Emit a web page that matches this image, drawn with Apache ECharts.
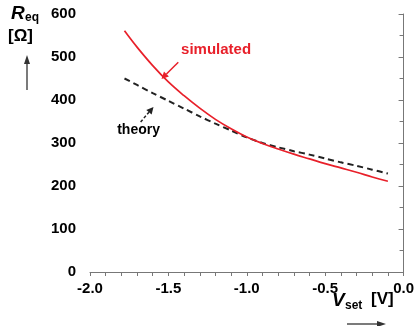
<!DOCTYPE html>
<html><head><meta charset="utf-8">
<script src="https://cdn.jsdelivr.net/npm/echarts@6/dist/echarts.min.js"></script>
<style>html,body{margin:0;padding:0;background:#fff}#c{width:417px;height:326px}</style>
</head><body><div id="c"></div>
<script>
const vset = [-1.78,-1.7,-1.6,-1.5,-1.4,-1.3,-1.2,-1.1,-1.0,-0.9,-0.8,-0.7,-0.6,-0.5,-0.4,-0.3,-0.2,-0.1];
const simulated = [561,523,480,442,410,381,355,333,314,299,286,274,263,252,242,232,221,211];
const theory = [450,435,416,398,380,362,345,329,313,300,290,281,273,264,255,247,238,229];
const xTicks = [-2.0,-1.5,-1.0,-0.5,0.0];
const yTicks = [0,100,200,300,400,500,600];

const FONT = 'Liberation Sans, Arial, sans-serif';
const chart = echarts.init(document.getElementById('c'));
const lab = {color:'#000',fontWeight:'bold',fontSize:15,fontFamily:FONT};
chart.setOption({
  animation:false,
  grid:{left:90,right:11,top:14,bottom:54},
  xAxis:{type:'value',min:xTicks[0],max:xTicks[xTicks.length-1],interval:0.5,
    axisLine:{lineStyle:{color:'#777',width:1}},
    axisTick:{length:4,lineStyle:{color:'#777',width:1}},
    minorTick:{show:true,splitNumber:5,length:4,lineStyle:{color:'#777',width:1}},
    splitLine:{show:false},minorSplitLine:{show:false},
    axisLabel:Object.assign({margin:9,formatter:v=>v.toFixed(1)},lab)},
  yAxis:{type:'value',min:yTicks[0],max:yTicks[yTicks.length-1],interval:100,
    axisLine:{show:true,lineStyle:{color:'#777',width:1}},
    axisTick:{show:true,length:5,lineStyle:{color:'#777',width:1}},
    minorTick:{show:true,splitNumber:2,length:4,lineStyle:{color:'#777',width:1}},
    splitLine:{show:false},minorSplitLine:{show:false},
    axisLabel:Object.assign({margin:14},lab)},
  series:[
    {type:'line',data:vset.map((x,i)=>[x,theory[i]]),smooth:0.3,symbol:'none',
     lineStyle:{color:'#222',width:2,type:[6,4]}},
    {type:'line',data:vset.map((x,i)=>[x,simulated[i]]),smooth:0.4,symbol:'none',
     lineStyle:{color:'#e8202a',width:1.7}}
  ]
});
function P(x,y){return chart.convertToPixel({gridIndex:0},[x,y]);}
function arrow(from,to,color,dash){
  const a=P(from[0],from[1]), b=P(to[0],to[1]);
  const ang=Math.atan2(b[1]-a[1],b[0]-a[0]);
  const L=7,W=3.5;
  const bx=b[0]-L*Math.cos(ang), by=b[1]-L*Math.sin(ang);
  const px=-Math.sin(ang)*W, py=Math.cos(ang)*W;
  return [
    {type:'line',shape:{x1:a[0],y1:a[1],x2:bx,y2:by},style:{stroke:color,lineWidth:1.5,lineDash:dash||null}},
    {type:'polygon',shape:{points:[[b[0],b[1]],[bx+px,by+py],[bx-px,by-py]]},style:{fill:color}}
  ];
}
const sp=P(-1.196,516), tp=P(-1.69,330);
const g=[
  {type:'text',x:sp[0],y:sp[1],style:{text:'simulated',fill:'#e8202a',font:'bold 15px '+FONT,textAlign:'center',textVerticalAlign:'middle'}},
  {type:'text',x:tp[0],y:tp[1],style:{text:'theory',fill:'#000',font:'bold 14px '+FONT,textAlign:'center',textVerticalAlign:'middle'}},
  ...arrow([-1.437,488],[-1.544,449],'#e8202a'),
  ...arrow([-1.677,349],[-1.595,384],'#222',[3,2]),
  {type:'text',x:11,y:4,style:{text:'R',fill:'#000',font:'italic bold 19px '+FONT}},
  {type:'text',x:25,y:12,style:{text:'eq',fill:'#000',font:'bold 12px '+FONT}},
  {type:'text',x:8,y:28,style:{text:'[Ω]',fill:'#000',font:'bold 17px '+FONT}},
  {type:'line',shape:{x1:27,y1:90,x2:27,y2:62},style:{stroke:'#333',lineWidth:1.3}},
  {type:'polygon',shape:{points:[[27,55],[24,64],[30,64]]},style:{fill:'#333'}},
  {type:'text',x:332,y:291,style:{text:'V',fill:'#000',font:'italic bold 19px '+FONT}},
  {type:'text',x:345,y:300,style:{text:'set',fill:'#000',font:'bold 12px '+FONT}},
  {type:'text',x:371,y:291,style:{text:'[V]',fill:'#000',font:'bold 17px '+FONT}},
  {type:'line',shape:{x1:347,y1:324,x2:378,y2:324},style:{stroke:'#333',lineWidth:1.3}},
  {type:'polygon',shape:{points:[[386,324],[377,321],[377,327]]},style:{fill:'#333'}}
];
chart.setOption({graphic:g});
</script></body></html>
